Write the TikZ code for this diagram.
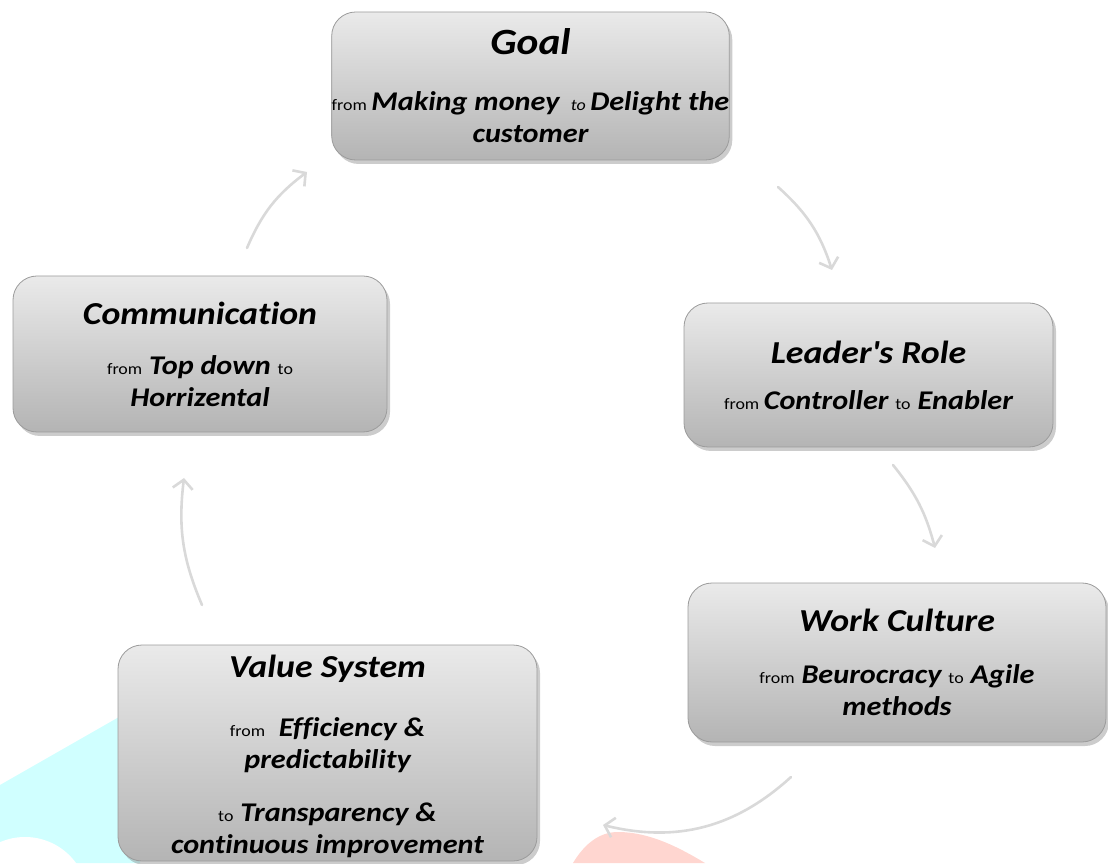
\documentclass[tikz,border=0pt]{standalone}
\usepackage{fontspec}
\setmainfont{Carlito}[FakeStretch=1.12, Ligatures={NoCommon}]
\usetikzlibrary{arrows.meta,shadows}
\definecolor{arrowgray}{RGB}{217,217,217}
\definecolor{wmcyan}{RGB}{208,255,255}
\definecolor{wmpink}{RGB}{255,214,208}
\definecolor{boxtop}{RGB}{234,234,234}
\definecolor{boxbot}{RGB}{180,180,180}
\definecolor{boxedge}{RGB}{155,155,155}
\newcommand\tsz{\fontsize{32}{38}\selectfont}
\newcommand\gsz{\fontsize{37}{44}\selectfont}
\newcommand\ssz{\fontsize{16}{20}\selectfont\mdseries\upshape}
\tikzset{
  boxtext/.style={align=center, inner sep=0pt,
    font=\fontsize{27}{32}\selectfont\bfseries\itshape},
  stepbox/.style={rectangle, rounded corners=24pt, draw=boxedge, line width=0.8pt,
    top color=boxtop, bottom color=boxbot,
    drop shadow={shadow xshift=3pt, shadow yshift=-4pt, opacity=0.4},
    boxtext},
  flow/.style={draw=arrowgray, line width=2.6pt, line cap=round,
    -{Straight Barb[length=9pt,width=20pt,line width=2.6pt]}},
}
\begin{document}
\begin{tikzpicture}[x=1pt,y=1pt]
\useasboundingbox (0,0) rectangle (1108,863);
% watermark shapes
\fill[wmcyan] (0,0) -- (0,78) -- (140,158) -- (140,0) -- cycle;
\fill[white] (25,-37) circle (63);
\fill[wmpink] (573,0) .. controls (585,20) and (600,31) .. (618,31)
  .. controls (650,31) and (680,15) .. (705,0) -- cycle;
% connectors' end points
\coordinate (a1s) at (247,615); \coordinate (a1e) at (307,691);
\coordinate (a2s) at (778,676); \coordinate (a2e) at (832,593);
\coordinate (a3s) at (893,398); \coordinate (a3e) at (935,315);
\coordinate (a4s) at (791,86);  \coordinate (a4e) at (603,38);
\coordinate (a5s) at (202,258); \coordinate (a5e) at (184,385);
\draw[flow] (a1s) to[bend left=15] (a1e);
\draw[flow] (a2s) to[bend left=15] (a2e);
\draw[flow] (a3s) to[bend left=12] (a3e);
\draw[flow] (a4s) to[bend left=28] (a4e);
\draw[flow] (a5s) to[bend left=15] (a5e);
% boxes
\node[stepbox, minimum width=395pt, minimum height=148pt] (goal) at (530.5,777)
  {{\gsz Goal}\\[24pt]{\ssz from}\,Making money\,\ {\ssz\itshape to}\,Delight the\\customer};
\node[stepbox, minimum width=374pt, minimum height=156pt] (comm) at (200,509)
  {{\tsz Communication}\\[18pt]{\ssz from} Top down {\ssz to}\\Horrizental};
\node[stepbox, minimum width=369pt, minimum height=144pt] (lead) at (868.5,488)
  {{\tsz Leader\textquotesingle s Role}\\[14pt]{\ssz from}\,Controller {\ssz to} Enabler};
\node[stepbox, minimum width=418pt, minimum height=159pt] (work) at (897,200.5)
  {{\tsz Work Culture}\\[20pt]{\ssz from} Beurocracy {\ssz to} Agile\\methods};
\node[stepbox, minimum width=419pt, minimum height=216pt] (value) at (327.5,110) {};
\node[boxtext, yshift=5pt] (valuetxt) at (value.center)
  {\rule{0pt}{40pt}{\tsz Value System}\\[27pt]{\ssz from}\ \ Efficiency \&\\predictability\\[21pt]{\ssz to} Transparency \&\\continuous improvement};
\end{tikzpicture}
\end{document}
